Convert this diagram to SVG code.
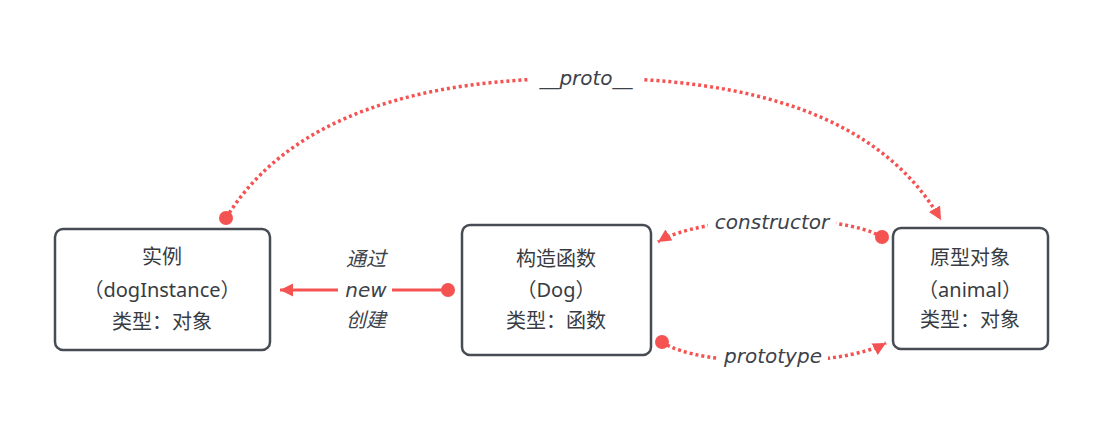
<svg xmlns="http://www.w3.org/2000/svg" width="1113" height="448" viewBox="0 0 1113 448">
<style>
.box{fill:#fff;stroke:#464b54;stroke-width:2.5}
.t{font-family:"Noto Sans","Noto Sans CJK SC",sans-serif;font-size:20px;fill:#383c42;text-anchor:middle}
.lbl{font-family:"DejaVu Sans","Noto Sans CJK SC",sans-serif;font-size:20px;fill:#3d424a;text-anchor:middle;font-style:italic}
.solid{fill:none;stroke:#f55252;stroke-width:3}
.dot{fill:none;stroke:#f55252;stroke-width:3.5;stroke-dasharray:3 3}
.end{fill:#f55252}
.bg{fill:#fff}
</style>
<defs>
<marker id="arr" markerUnits="userSpaceOnUse" markerWidth="14" markerHeight="14" refX="13" refY="6.5" orient="auto">
<path d="M0,0 L13,6.5 L0,13 z" fill="#f55252"/>
</marker>
</defs>
<g id="connectors">
<path class="solid" d="M448,290 L280,290" marker-end="url(#arr)"/>
<circle class="end" cx="448" cy="290" r="7"/>
<rect class="bg" x="338" y="243" width="54" height="94"/>
<text class="lbl" x="366" y="266">通过</text>
<text class="lbl" x="366" y="297">new</text>
<text class="lbl" x="366" y="327">创建</text>

<path class="dot" d="M882,237 C840,212 700,215 658,242" marker-end="url(#arr)"/>
<circle class="end" cx="882" cy="237" r="7"/>
<rect class="bg" x="708" y="208" width="128" height="26"/>
<text class="lbl" x="772" y="229">constructor</text>

<path class="dot" d="M662,342 C700,368 840,368 886,343" marker-end="url(#arr)"/>
<circle class="end" cx="662" cy="342" r="7"/>
<rect class="bg" x="718" y="344" width="110" height="26"/>
<text class="lbl" x="773" y="363">prototype</text>

<path class="dot" d="M226,218 C290,115 420,78 585,78 C750,78 880,115 941,220" marker-end="url(#arr)"/>
<circle class="end" cx="226" cy="218" r="7"/>
<rect class="bg" x="529" y="64" width="114" height="28"/>
<text class="lbl" x="586" y="85">__proto__</text>
</g>
<g id="node-instance">
<rect class="box" x="55" y="229" width="215" height="121" rx="8"/>
<text class="t" x="162" y="264">实例</text>
<text class="t" x="162" y="297">（dogInstance）</text>
<text class="t" x="162" y="329">类型：对象</text>
</g>
<g id="node-constructor">
<rect class="box" x="462" y="225" width="189" height="130" rx="8"/>
<text class="t" x="556" y="266">构造函数</text>
<text class="t" x="556" y="297">（Dog）</text>
<text class="t" x="556" y="328">类型：函数</text>
</g>
<g id="node-prototype">
<rect class="box" x="893" y="228" width="155" height="121" rx="8"/>
<text class="t" x="970" y="265">原型对象</text>
<text class="t" x="970" y="297">（animal）</text>
<text class="t" x="970" y="327">类型：对象</text>
</g>
</svg>
